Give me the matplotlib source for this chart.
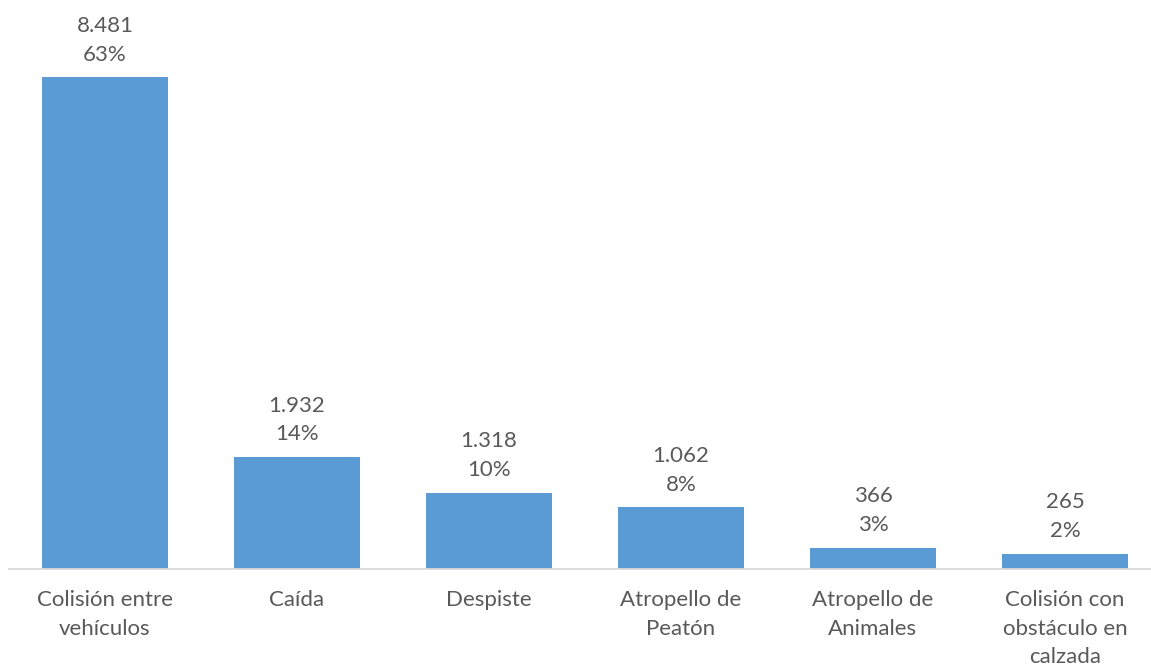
import matplotlib
matplotlib.use("Agg")
import matplotlib.pyplot as plt

categories = ["Colisión entre\nvehículos", "Caída", "Despiste", "Atropello de\nPeatón",
              "Atropello de\nAnimales", "Colisión con\nobstáculo en\ncalzada"]
values = [8481, 1932, 1318, 1062, 366, 265]
value_labels = ["8.481", "1.932", "1.318", "1.062", "366", "265"]
pct_labels = ["63%", "14%", "10%", "8%", "3%", "2%"]

W, H = 1151, 669
fig = plt.figure(figsize=(W / 100, H / 100), dpi=100)
# axes spans x from 9px to 1161px (slightly beyond right edge), baseline at y=569
ax = fig.add_axes([9 / W, 100 / H, 1152 / W, 522.1 / H])

text_color = "#595959"
font = "Lato"
fs = 16

x = list(range(len(categories)))
ax.bar(x, values, width=0.655, color="#5B9BD5", zorder=2)
ax.set_xlim(-0.5, len(categories) - 0.5)
ax.set_ylim(0, 9000)

for xi, v, vl, pl in zip(x, values, value_labels, pct_labels):
    ax.annotate(f"{vl}\n{pl}", (xi, v), xytext=(0, 9), textcoords="offset points",
                ha="center", va="bottom", fontsize=fs, family=font, color=text_color,
                linespacing=1.55, clip_on=False, annotation_clip=False)

for s in ["top", "right", "left"]:
    ax.spines[s].set_visible(False)
ax.spines["bottom"].set_color("#D9D9D9")
ax.spines["bottom"].set_linewidth(1.3)
ax.set_yticks([])
ax.set_xticks(x)
ax.set_xticklabels(categories, fontsize=fs, family=font, color=text_color, linespacing=1.55, va="top")
ax.tick_params(axis="x", length=0, pad=15)

fig.savefig("out.png", dpi=100)
